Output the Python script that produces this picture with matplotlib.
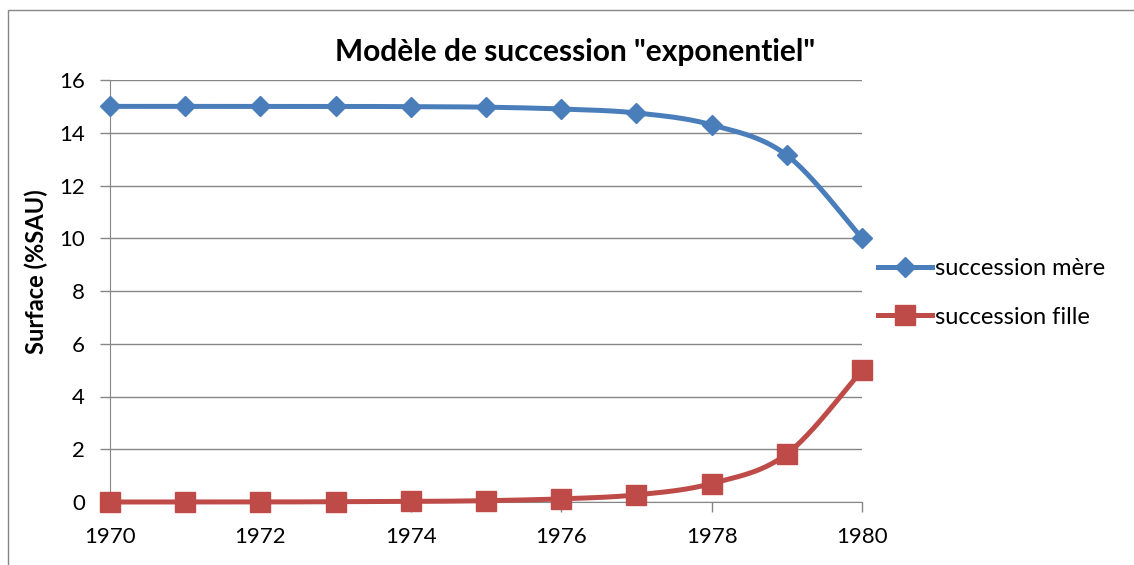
import numpy as np
import matplotlib
matplotlib.use("Agg")
import matplotlib.pyplot as plt
from matplotlib.lines import Line2D
from matplotlib.patches import Rectangle

plt.rcParams['font.family'] = ['Lato', 'DejaVu Sans']

# donnees
annees = [1970, 1971, 1972, 1973, 1974, 1975, 1976, 1977, 1978, 1979, 1980]
mere = [15.0, 15.0, 15.0, 15.0, 14.99, 14.97, 14.9, 14.75, 14.3, 13.15, 10.0]
fille = [0.0, 0.0, 0.0, 0.01, 0.02, 0.05, 0.12, 0.27, 0.7, 1.82, 5.0]
labels = ["succession mère", "succession fille"]
titre = 'Modèle de succession "exponentiel"'

bleu = '#4A7EBB'
rouge = '#BE4B48'
gris = '#868686'


# lissage type excel (catmull-rom)
def lisse(x, y, n=30):
    x = np.asarray(x, float)
    y = np.asarray(y, float)
    px = np.concatenate([[x[0]], x, [x[-1]]])
    py = np.concatenate([[y[0]], y, [y[-1]]])
    xs, ys = [], []
    t = np.linspace(0, 1, n)
    for i in range(1, len(px) - 2):
        for p, out in ((px, xs), (py, ys)):
            p0, p1, p2, p3 = p[i - 1], p[i], p[i + 1], p[i + 2]
            c = 0.5 * ((2 * p1) + (-p0 + p2) * t + (2 * p0 - 5 * p1 + 4 * p2 - p3) * t ** 2
                       + (-p0 + 3 * p1 - 3 * p2 + p3) * t ** 3)
            out.extend(c)
    return np.array(xs), np.array(ys)


fig = plt.figure(figsize=(11.34, 5.65), dpi=100)
fig.patches.append(Rectangle((8 / 1134, -0.1), 1.2, (565 - 10) / 565 + 0.1,
                             transform=fig.transFigure, fill=False, ec=gris, lw=1))
ax = fig.add_axes([110 / 1134, (565 - 502) / 565, (862 - 110) / 1134, (502 - 80) / 565])

for yv, col, mk, ms, lab in ((mere, bleu, 'D', 10, labels[0]), (fille, rouge, 's', 14, labels[1])):
    sx, sy = lisse(annees, yv)
    ax.plot(sx, sy, color=col, lw=3.6, solid_capstyle='round', clip_on=False, zorder=3)
    ax.plot(annees, yv, ls='none', marker=mk, ms=ms, color=col, clip_on=False, zorder=4)

ax.set_xlim(1970, 1980)
ax.set_ylim(0, 16)
ax.set_yticks(range(0, 17, 2))
ax.set_xticks(range(1970, 1981, 2))
ax.grid(axis='y', color=gris, lw=1)
ax.set_axisbelow(True)
for s in ('top', 'right'):
    ax.spines[s].set_visible(False)
for s in ('left', 'bottom'):
    ax.spines[s].set_color(gris)
ax.tick_params(axis='both', colors=gris, labelcolor='black', labelsize=16, length=7, width=1)
ax.tick_params(axis='y', pad=11)
ax.tick_params(axis='x', pad=11)
ax.set_ylabel('Surface (%SAU)', fontsize=17, fontweight='bold')
ax.yaxis.set_label_coords(-0.083, 0.547)
fig.text(575 / 1134, (565 - 52) / 565, titre, fontsize=21.5, fontweight='bold',
         ha='center', va='center')

poignees = [Line2D([], [], color=bleu, lw=3.6, marker='D', ms=10),
            Line2D([], [], color=rouge, lw=3.6, marker='s', ms=14)]
fig.legend(poignees, labels, loc='center left', bbox_to_anchor=(878 / 1134, (565 - 293) / 565),
           frameon=False, fontsize=17, handlelength=2.3, handletextpad=0.1, labelspacing=1.15,
           borderpad=0, borderaxespad=0)

fig.savefig('out.png', dpi=100)
